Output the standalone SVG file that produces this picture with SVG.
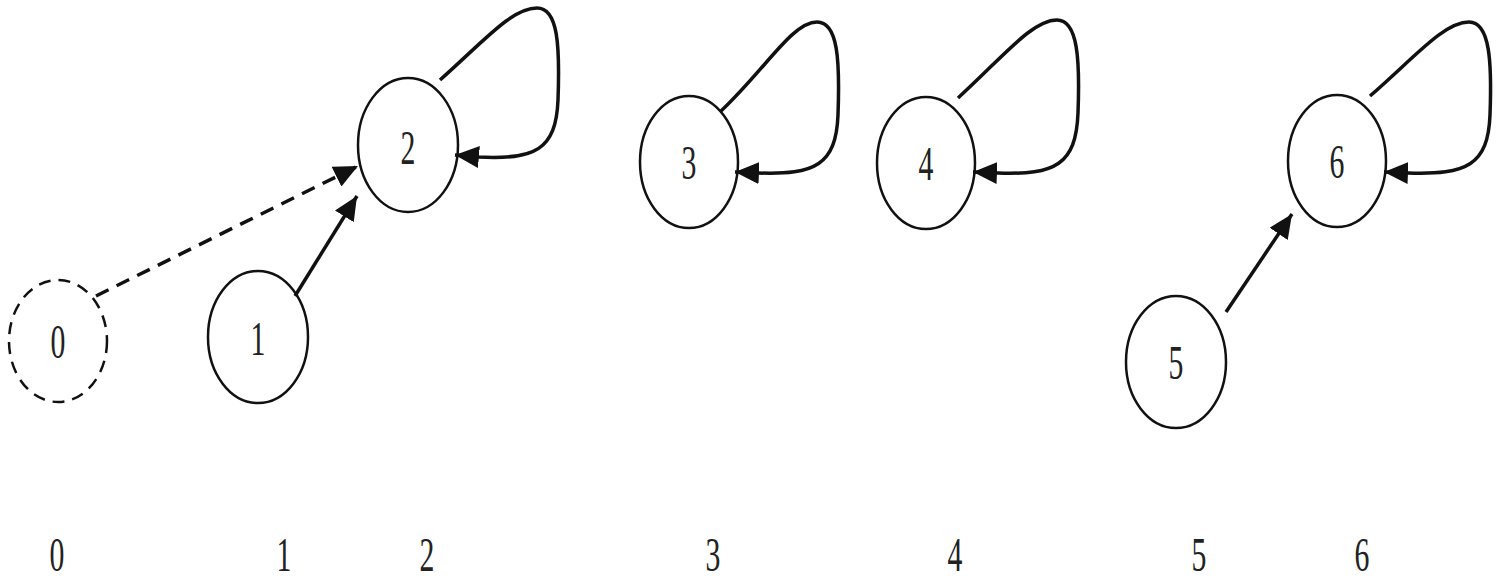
<svg xmlns="http://www.w3.org/2000/svg" width="1501" height="579" viewBox="0 0 1501 579">
<style>
.node ellipse{fill:none;stroke:#111;stroke-width:2.5}
.dashed ellipse{stroke-dasharray:12 8}
.lbl{font-family:"Liberation Serif",serif;font-size:48px;fill:#222;text-anchor:middle}
.edge{fill:none;stroke:#111;stroke-width:3.5}
.dash{stroke-dasharray:14 9}
</style>
<defs>
<marker id="ah" markerUnits="userSpaceOnUse" markerWidth="26" markerHeight="22" refX="24" refY="11" orient="auto">
<path d="M0,0 L24,11 L0,22 Z" fill="#111"/>
</marker>
</defs>
<rect width="1501" height="579" fill="#fff"/>
<g id="connectors">
<path class="edge dash" d="M96,296 L358,166" marker-end="url(#ah)"/>
<path class="edge" d="M295,296 L357,196" marker-end="url(#ah)"/>
<path class="edge" d="M1226,312 L1292,214" marker-end="url(#ah)"/>
<path class="edge" d="M440,80 C485,40 512,8 537,8 C558,8 560,45 558,100 C556,150 535,160 478,157 L455,155" marker-end="url(#ah)"/>
<path class="edge" d="M720,112 C765,70 792,22 817,22 C838,22 840,60 838,115 C836,165 815,175 758,173 L735,172" marker-end="url(#ah)"/>
<path class="edge" d="M958,98 C1003,57 1032,20 1057,20 C1078,20 1080,60 1078,113 C1076,165 1055,175 998,173 L973,172" marker-end="url(#ah)"/>
<path class="edge" d="M1370,96 C1415,57 1444,22 1469,22 C1490,22 1492,62 1490,115 C1488,165 1467,175 1408,173 L1384,172" marker-end="url(#ah)"/>
</g>
<g id="node0" class="node dashed"><ellipse cx="58" cy="341" rx="49" ry="61"/><text class="lbl" transform="translate(58,358) scale(0.62,1)">0</text></g>
<g id="node1" class="node"><ellipse cx="258" cy="337" rx="50" ry="66"/><text class="lbl" transform="translate(258,355) scale(0.62,1)">1</text></g>
<g id="node2" class="node"><ellipse cx="408" cy="145" rx="50" ry="67"/><text class="lbl" transform="translate(408,164) scale(0.62,1)">2</text></g>
<g id="node3" class="node"><ellipse cx="689" cy="162" rx="49" ry="66"/><text class="lbl" transform="translate(689,179) scale(0.62,1)">3</text></g>
<g id="node4" class="node"><ellipse cx="926" cy="163" rx="49" ry="66"/><text class="lbl" transform="translate(926,180) scale(0.62,1)">4</text></g>
<g id="node5" class="node"><ellipse cx="1176" cy="362" rx="50" ry="66"/><text class="lbl" transform="translate(1176,379) scale(0.62,1)">5</text></g>
<g id="node6" class="node"><ellipse cx="1337" cy="161" rx="49" ry="66"/><text class="lbl" transform="translate(1337,178) scale(0.62,1)">6</text></g>
<g id="index-labels">
<text class="lbl" transform="translate(57,571) scale(0.62,1)">0</text>
<text class="lbl" transform="translate(284,571) scale(0.62,1)">1</text>
<text class="lbl" transform="translate(427,571) scale(0.62,1)">2</text>
<text class="lbl" transform="translate(713,571) scale(0.62,1)">3</text>
<text class="lbl" transform="translate(955,571) scale(0.62,1)">4</text>
<text class="lbl" transform="translate(1199,571) scale(0.62,1)">5</text>
<text class="lbl" transform="translate(1362,571) scale(0.62,1)">6</text>
</g>
</svg>
